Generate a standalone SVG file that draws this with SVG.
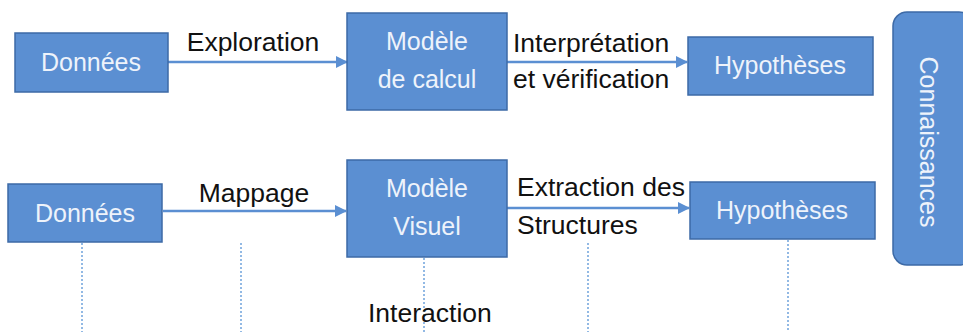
<svg xmlns="http://www.w3.org/2000/svg" width="963" height="332" viewBox="0 0 963 332">
<defs>
<marker id="ah" markerWidth="12" markerHeight="12" refX="11" refY="6" orient="auto" markerUnits="userSpaceOnUse">
<path d="M0,0 L12,6 L0,12 Z" fill="#5b8fd2"/>
</marker>
<style>
.box{fill:#5b8fd2;stroke:#3d6aa6;stroke-width:1.5}
.bt{font-family:"Liberation Sans",Arial,sans-serif;font-size:25px;fill:#eef3fb;text-anchor:middle}
.lt{font-family:"Liberation Sans",Arial,sans-serif;font-size:26.5px;fill:#111}
.arr{stroke:#5b8fd2;stroke-width:2.5;fill:none}
.dot{stroke:#6fa2dc;stroke-width:1.5;stroke-dasharray:2 2;fill:none}
</style>
</defs>
<rect width="963" height="332" fill="#fff"/>
<g id="connectors">
<line class="arr" x1="168" y1="62" x2="347" y2="62" marker-end="url(#ah)"/>
<line class="arr" x1="507" y1="62" x2="687" y2="62" marker-end="url(#ah)"/>
<line class="arr" x1="163" y1="211" x2="346" y2="211" marker-end="url(#ah)"/>
<line class="arr" x1="507" y1="208" x2="689" y2="208" marker-end="url(#ah)"/>
<line class="dot" x1="82" y1="243" x2="82" y2="332"/>
<line class="dot" x1="241" y1="243" x2="241" y2="332"/>
<line class="dot" x1="424" y1="258" x2="424" y2="332"/>
<line class="dot" x1="588" y1="243" x2="588" y2="332"/>
<line class="dot" x1="788" y1="240" x2="788" y2="332"/>
<text class="lt" x="253" y="51" text-anchor="middle">Exploration</text>
<text class="lt" x="513" y="52">Interprétation</text>
<text class="lt" x="513" y="88">et vérification</text>
<text class="lt" x="254" y="202" text-anchor="middle">Mappage</text>
<text class="lt" x="517" y="196">Extraction des</text>
<text class="lt" x="517" y="234">Structures</text>
<text class="lt" x="368" y="322">Interaction</text>
</g>
<g id="donnees1">
<rect class="box" x="15" y="33" width="153" height="59"/>
<text class="bt" x="91" y="71">Données</text>
</g>
<g id="modele-calcul">
<rect class="box" x="347" y="13" width="160" height="97"/>
<text class="bt" x="427" y="50">Modèle</text>
<text class="bt" x="427" y="88">de calcul</text>
</g>
<g id="hypotheses1">
<rect class="box" x="688" y="37" width="185" height="58"/>
<text class="bt" x="780" y="74">Hypothèses</text>
</g>
<g id="connaissances">
<rect class="box" x="893" y="12" width="80" height="253" rx="14"/>
<text class="bt" transform="translate(920,142) rotate(90)">Connaissances</text>
</g>
<g id="donnees2">
<rect class="box" x="8" y="184" width="154" height="58"/>
<text class="bt" x="85" y="222">Données</text>
</g>
<g id="modele-visuel">
<rect class="box" x="347" y="160" width="160" height="97"/>
<text class="bt" x="427" y="197">Modèle</text>
<text class="bt" x="427" y="235">Visuel</text>
</g>
<g id="hypotheses2">
<rect class="box" x="690" y="182" width="185" height="57"/>
<text class="bt" x="782" y="219">Hypothèses</text>
</g>
</svg>
